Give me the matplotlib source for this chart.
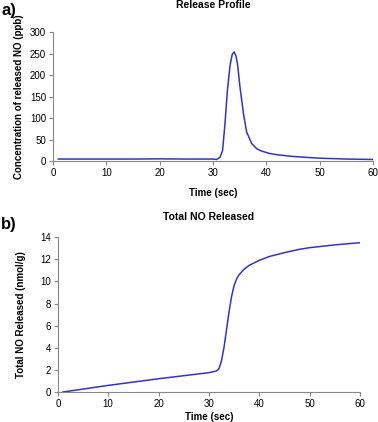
import matplotlib
matplotlib.use("Agg")
import matplotlib.pyplot as plt
import numpy as np

plt.rcParams['font.family'] = ['Liberation Sans', 'DejaVu Sans']

# Release profile data
t_rel = [1, 5, 10, 15, 20, 25, 30, 30.7, 31.3, 31.8, 32.25, 32.7, 33.2, 33.6, 33.95, 34.3, 34.6, 35.05, 35.7, 36.3, 37.25, 38.2, 39, 40.6, 42, 45, 48, 50, 55, 60]
c_rel = [5, 5, 5, 5, 5.5, 5, 5, 4, 9, 25, 88, 165, 223, 248, 254, 245, 225, 173, 111, 68, 41, 29, 24, 18, 15, 11, 8.5, 7, 5, 4]

# Total NO released data
t_tot = [1, 10, 20, 30, 31, 31.5, 32, 32.5, 33, 33.5, 34, 34.5, 35, 35.5, 36, 37, 38, 40, 42, 45, 48, 50, 55, 60]
n_tot = [0, 0.6, 1.2, 1.75, 1.85, 1.9, 2.1, 2.8, 4.0, 5.6, 7.2, 8.6, 9.6, 10.2, 10.6, 11.1, 11.45, 11.9, 12.25, 12.6, 12.9, 13.05, 13.3, 13.5]

fig = plt.figure(figsize=(3.78, 4.22), dpi=100)
line_color = '#3333cc'
spine_color = '#888888'

def style(ax):
    for s in ['top', 'right']:
        ax.spines[s].set_visible(False)
    for s in ['left', 'bottom']:
        ax.spines[s].set_color(spine_color)
        ax.spines[s].set_linewidth(0.8)
    ax.tick_params(axis='both', labelsize=7, length=3, width=0.8, color=spine_color, pad=2)

ax1 = fig.add_axes([0.140, 0.618, 0.847, 0.306])
ax1.plot(t_rel, c_rel, color=line_color, lw=1.1)
ax1.set_xlim(0, 60)
ax1.set_ylim(0, 300)
ax1.set_xticks(range(0, 61, 10))
ax1.set_yticks(range(0, 301, 50))
style(ax1)
ax1.set_ylabel('Concentration of released NO (ppb)', fontsize=7, fontweight='bold', labelpad=4)
ax1.set_xlabel('Time (sec)', fontsize=7, fontweight='bold', labelpad=7)
ax1.set_title('Release Profile', fontsize=7.5, fontweight='bold', pad=17)
fig.text(0.003, 0.975, 'a)', fontsize=12, fontweight='bold', va='center', ha='left')

ax2 = fig.add_axes([0.153, 0.071, 0.799, 0.367])
ax2.plot(t_tot, n_tot, color=line_color, lw=1.1)
ax2.set_xlim(0, 60)
ax2.set_ylim(0, 14)
ax2.set_xticks(range(0, 61, 10))
ax2.set_yticks(range(0, 15, 2))
style(ax2)
ax2.set_ylabel('Total NO Released (nmol/g)', fontsize=7, fontweight='bold', labelpad=10)
ax2.set_xlabel('Time (sec)', fontsize=7, fontweight='bold', labelpad=2)
ax2.set_title('Total NO Released', fontsize=7.5, fontweight='bold', pad=12)
fig.text(0.003, 0.467, 'b)', fontsize=12, fontweight='bold', va='center', ha='left')

fig.savefig('out.png', dpi=100)
